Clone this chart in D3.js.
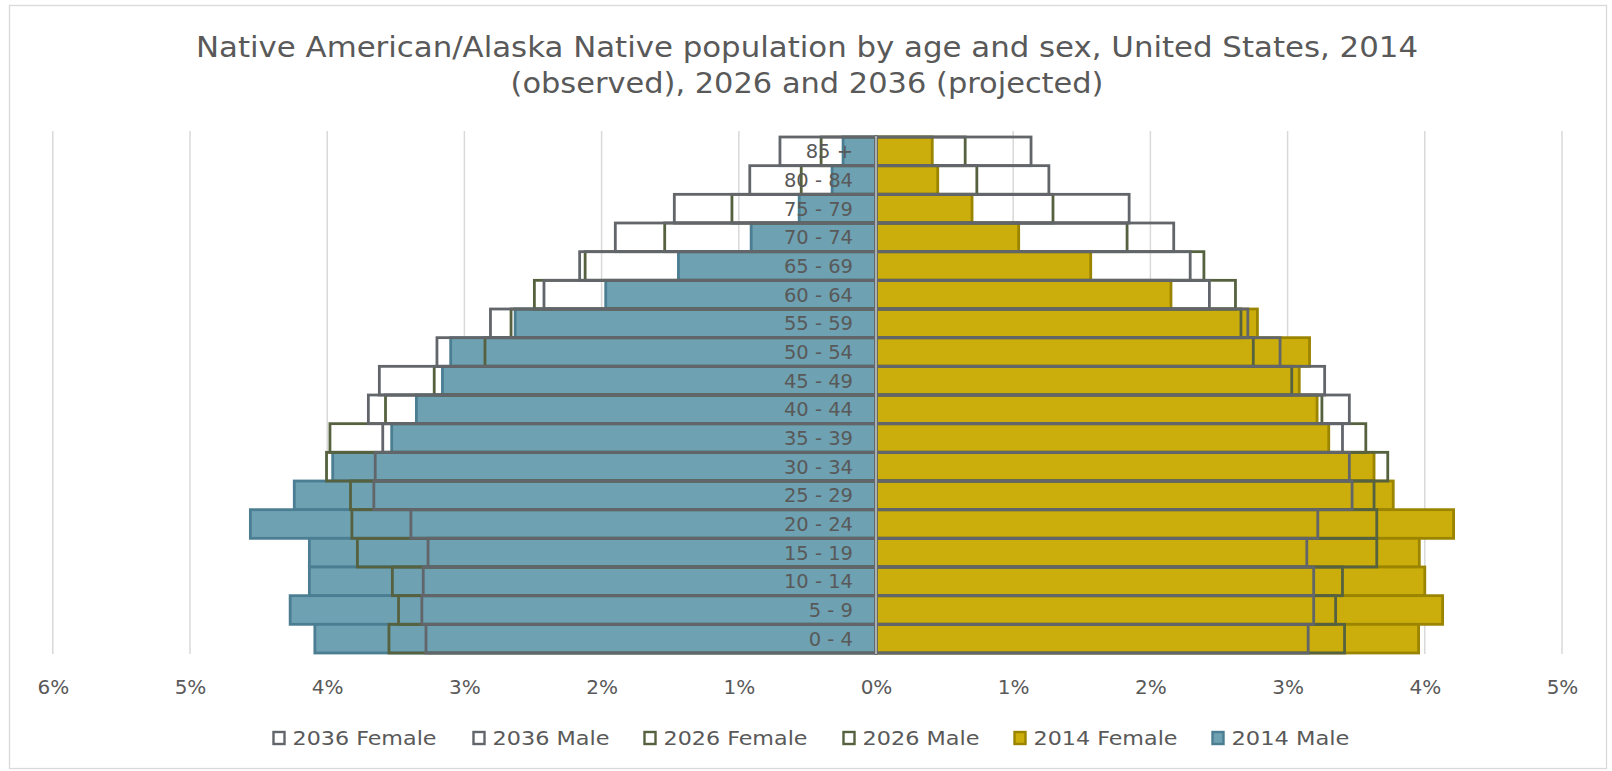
<!DOCTYPE html>
<html>
<head>
<meta charset="utf-8">
<script src="https://cdn.jsdelivr.net/npm/d3@7"></script>
<style>
  html, body { margin: 0; padding: 0; background: #ffffff; }
  svg { display: block; }
  text { font-family: "DejaVu Sans", "Noto Sans", sans-serif; fill: #595959; }
</style>
</head>
<body>
<svg id="chart" width="1612" height="771"></svg>
<script>
// ---- Data (percent of total population) ----
const ageGroups = ["85 +","80 - 84","75 - 79","70 - 74","65 - 69","60 - 64","55 - 59","50 - 54","45 - 49",
                   "40 - 44","35 - 39","30 - 34","25 - 29","20 - 24","15 - 19","10 - 14","5 - 9","0 - 4"];

const male2014   = [0.24,0.32,0.56,0.91,1.44,1.97,2.63,3.10,3.16,3.35,3.53,3.96,4.24,4.56,4.13,4.13,4.27,4.09];
const female2014 = [0.41,0.45,0.70,1.04,1.565,2.15,2.78,3.16,3.085,3.215,3.30,3.63,3.77,4.21,3.96,4.00,4.13,3.955];
const male2026   = [0.40,0.545,1.05,1.54,2.12,2.49,2.66,2.85,3.22,3.575,3.98,4.005,3.83,3.82,3.78,3.525,3.48,3.55];
const female2026 = [0.65,0.735,1.29,1.83,2.39,2.62,2.66,2.75,3.03,3.25,3.57,3.73,3.63,3.65,3.65,3.40,3.35,3.415];
const male2036   = [0.70,0.92,1.47,1.90,2.16,2.42,2.81,3.20,3.62,3.70,3.595,3.65,3.66,3.39,3.265,3.30,3.31,3.28];
const female2036 = [1.13,1.26,1.845,2.17,2.29,2.43,2.71,2.945,3.27,3.45,3.40,3.45,3.47,3.22,3.14,3.19,3.19,3.15];

const tickValues = [-6,-5,-4,-3,-2,-1,0,1,2,3,4,5];
const legendLabels = ["2036 Female","2036 Male","2026 Female","2026 Male","2014 Female","2014 Male"];
const titleLines = ["Native American/Alaska Native population by age and sex, United States, 2014",
                    "(observed), 2026 and 2036 (projected)"];

// ---- Styles ----
const C = {
  gray: "#62666b", olive: "#56623f",
  tealFill: "#6ea1b1", tealStroke: "#4b7e92",
  goldFill: "#cbae0b", goldStroke: "#9a8400",
  grid: "#d9d9d9", text: "#595959"
};

const svg = d3.select("#chart");

// chart border
svg.append("rect").attr("x", 9.5).attr("y", 5.5).attr("width", 1597).attr("height", 763)
  .attr("fill", "#fff").attr("stroke", C.grid).attr("stroke-width", 1.3);

const x = d3.scaleLinear().domain([-6, 5]).range([52.8, 1562]);
const y = d3.scaleBand().domain(ageGroups).range([137, 653]).padding(0);

// gridlines
svg.append("g").selectAll("line").data(tickValues.filter(d => d !== 0)).join("line")
  .attr("x1", d => x(d)).attr("x2", d => x(d))
  .attr("y1", 131).attr("y2", 654)
  .attr("stroke", C.grid).attr("stroke-width", 1.5);

function bars(values, side, cls, fill, stroke) {
  svg.append("g").attr("class", cls).selectAll("rect").data(values).join("rect")
    .attr("x", d => side < 0 ? x(-d) : x(0))
    .attr("width", d => Math.abs(x(d) - x(0)))
    .attr("y", (d, i) => y(ageGroups[i]))
    .attr("height", y.bandwidth())
    .attr("fill", fill)
    .attr("stroke", stroke)
    .attr("stroke-width", 2.8);
}

bars(female2014, 1, "f2014", C.goldFill, C.goldStroke);
bars(male2014, -1, "m2014", C.tealFill, C.tealStroke);
bars(female2026, 1, "f2026", "none", C.olive);
bars(male2026, -1, "m2026", "none", C.olive);
bars(female2036, 1, "f2036", "none", C.gray);
bars(male2036, -1, "m2036", "none", C.gray);

// zero axis line
svg.append("line").attr("x1", x(0)).attr("x2", x(0)).attr("y1", 136).attr("y2", 654)
  .attr("stroke", "#c9c9c9").attr("stroke-width", 1.5);

// category labels
svg.append("g").selectAll("text").data(ageGroups).join("text")
  .attr("x", 853).attr("y", d => y(d) + y.bandwidth() / 2)
  .attr("dy", "0.36em").attr("text-anchor", "end")
  .style("font-size", "19.5px").text(d => d);

// x axis using d3 axis
const xAxis = d3.axisBottom(x).tickValues(tickValues)
  .tickFormat(d => Math.abs(d) + "%").tickSize(0).tickPadding(0);
const gx = svg.append("g").attr("transform", "translate(0,680)").call(xAxis);
gx.select(".domain").remove();
gx.selectAll("text").style("font-size", "20px").style("fill", C.text)
  .style("font-family", '"DejaVu Sans", sans-serif');

// title
const titleWidths = [1222, 593];
svg.append("g").selectAll("text").data(titleLines).join("text")
  .attr("x", 807).attr("y", (d, i) => 57 + i * 36)
  .attr("text-anchor", "middle").style("font-size", "28px")
  .attr("textLength", (d, i) => titleWidths[i]).attr("lengthAdjust", "spacingAndGlyphs")
  .text(d => d);

// legend
const legendX = [279, 479, 650, 849, 1020, 1218];
const legendW = [144, 117, 144, 117, 144, 118];
const legendStyle = [
  {fill: "#fff", stroke: C.gray}, {fill: "#fff", stroke: C.gray},
  {fill: "#fff", stroke: C.olive}, {fill: "#fff", stroke: C.olive},
  {fill: C.goldFill, stroke: C.goldStroke}, {fill: C.tealFill, stroke: C.tealStroke}
];
const lg = svg.append("g").selectAll("g").data(legendLabels).join("g")
  .attr("transform", (d, i) => `translate(${legendX[i]},738)`);
lg.append("rect").attr("x", -5.5).attr("y", -6).attr("width", 11).attr("height", 12)
  .attr("fill", (d, i) => legendStyle[i].fill).attr("stroke", (d, i) => legendStyle[i].stroke)
  .attr("stroke-width", 2.4);
lg.append("text").attr("x", 13.5).attr("dy", "0.36em").style("font-size", "20px")
  .attr("textLength", (d, i) => legendW[i]).attr("lengthAdjust", "spacingAndGlyphs")
  .text(d => d);
</script>
</body>
</html>
